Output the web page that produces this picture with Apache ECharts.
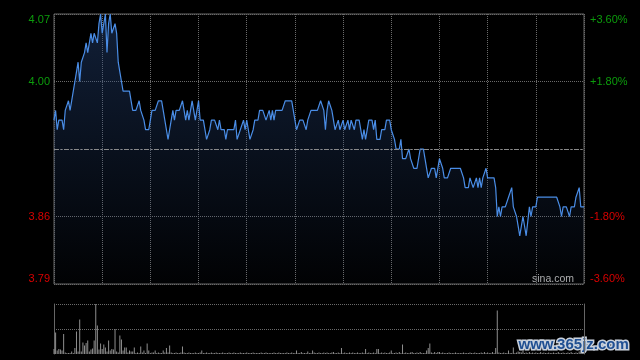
<!DOCTYPE html>
<html>
<head>
<meta charset="utf-8">
<script src="https://cdn.jsdelivr.net/npm/echarts@6/dist/echarts.min.js"></script>
<style>
html,body{margin:0;padding:0;background:#000;}
#chart{width:640px;height:360px;}
</style>
</head>
<body>
<div id="chart"></div>
<script>
// ---- data ----
const prevClose = 3.93;
const priceTicks = [3.79, 3.86, 3.93, 4.00, 4.07];
const pctTicks = ['-3.60%', '-1.80%', '', '+1.80%', '+3.60%'];

// minute labels: 09:30-12:00, 13:01-16:00 (HK session)
const times = [];
for (let m = 9 * 60 + 30; m <= 12 * 60; m++) times.push(String(Math.floor(m / 60)).padStart(2, '0') + ':' + String(m % 60).padStart(2, '0'));
for (let m = 13 * 60 + 1; m <= 16 * 60; m++) times.push(String(Math.floor(m / 60)).padStart(2, '0') + ':' + String(m % 60).padStart(2, '0'));

const prices = [
3.96,3.97,3.95,3.96,3.96,3.96,3.95,3.97,3.97,3.98,
3.97,3.98,3.99,4.00,4.01,4.02,4.00,4.02,4.02,4.03,
4.04,4.03,4.03,4.05,4.04,4.05,4.05,4.04,4.06,4.07,
4.05,4.05,4.07,4.03,4.06,4.07,4.05,4.05,4.06,4.05,
4.02,4.01,4.00,3.99,3.99,3.99,3.99,3.99,3.98,3.97,
3.97,3.97,3.97,3.98,3.97,3.97,3.96,3.95,3.95,3.95,
3.95,3.97,3.97,3.97,3.97,3.98,3.98,3.98,3.97,3.96,
3.96,3.94,3.95,3.95,3.97,3.96,3.97,3.97,3.97,3.97,
3.98,3.97,3.96,3.97,3.96,3.97,3.98,3.98,3.96,3.96,
3.98,3.96,3.96,3.96,3.95,3.94,3.94,3.95,3.96,3.96,
3.96,3.96,3.95,3.96,3.95,3.95,3.95,3.94,3.95,3.95,
3.95,3.95,3.95,3.96,3.94,3.94,3.95,3.95,3.96,3.95,
3.96,3.96,3.94,3.94,3.95,3.96,3.96,3.96,3.97,3.97,
3.97,3.97,3.96,3.96,3.97,3.96,3.97,3.96,3.97,3.97,
3.97,3.97,3.97,3.97,3.98,3.98,3.98,3.98,3.98,3.97,
3.96,3.95,3.95,3.96,3.96,3.96,3.96,3.95,3.96,3.96,
3.97,3.97,3.97,3.97,3.97,3.97,3.98,3.98,3.97,3.95,
3.97,3.98,3.98,3.97,3.97,3.95,3.95,3.96,3.95,3.95,
3.96,3.95,3.95,3.96,3.95,3.96,3.96,3.95,3.96,3.96,
3.96,3.95,3.94,3.95,3.94,3.94,3.96,3.96,3.96,3.95,
3.96,3.94,3.94,3.94,3.95,3.95,3.95,3.96,3.96,3.96,
3.95,3.95,3.94,3.93,3.93,3.93,3.94,3.92,3.92,3.92,
3.92,3.93,3.92,3.92,3.91,3.91,3.91,3.92,3.93,3.93,
3.93,3.92,3.91,3.90,3.90,3.91,3.91,3.91,3.90,3.91,
3.92,3.92,3.91,3.90,3.90,3.90,3.90,3.91,3.91,3.91,
3.91,3.91,3.91,3.91,3.91,3.90,3.89,3.89,3.89,3.90,
3.90,3.89,3.89,3.90,3.89,3.90,3.89,3.90,3.90,3.91,
3.90,3.90,3.90,3.90,3.90,3.89,3.86,3.87,3.86,3.87,
3.87,3.87,3.87,3.88,3.88,3.89,3.87,3.87,3.86,3.85,
3.84,3.84,3.86,3.86,3.84,3.84,3.87,3.86,3.87,3.87,
3.87,3.88,3.88,3.88,3.88,3.88,3.88,3.88,3.88,3.88,
3.88,3.88,3.88,3.88,3.88,3.87,3.86,3.87,3.87,3.87,
3.87,3.86,3.87,3.87,3.87,3.88,3.88,3.89,3.87,3.87,
3.87
];

const volumes = [
10,43,7,10,9,7,40,3,2,2,
2,5,2,12,45,5,69,5,23,17,
22,27,5,9,11,27,100,57,9,21,
10,19,13,5,27,7,10,9,50,5,
3,37,29,7,13,13,3,7,5,5,
13,2,3,2,15,3,7,2,21,7,
2,3,3,7,2,3,2,2,7,3,
12,3,17,3,2,2,3,2,2,3,
15,3,2,2,3,2,2,2,3,2,
2,3,7,2,2,3,2,2,3,2,
2,3,2,2,2,3,2,2,2,3,
2,2,3,2,2,2,3,2,2,2,
3,2,2,2,3,2,2,2,2,3,
2,2,3,2,2,2,2,3,2,2,
3,2,2,2,2,3,2,2,3,2,
2,7,2,2,4,2,2,2,5,2,
2,7,3,2,2,3,2,2,3,2,
3,2,2,3,4,2,2,3,2,12,
2,3,2,2,3,2,3,2,2,3,
2,2,3,2,10,2,3,2,2,3,
2,10,10,2,3,2,3,2,2,3,
7,2,2,3,2,4,2,19,2,3,
2,2,3,4,2,2,3,2,4,2,
2,2,7,12,21,3,2,4,2,4,
4,2,3,2,2,2,3,2,2,2,
3,2,2,2,2,3,2,2,2,3,
2,2,3,2,2,2,3,2,4,2,
3,2,2,4,2,12,87,3,2,2,
3,2,2,7,2,2,13,2,3,5,
4,3,6,2,3,2,4,2,3,2,
3,2,2,4,2,3,2,2,3,2,
2,3,2,2,4,2,2,3,2,2,
3,2,4,2,2,3,2,5,3,2,
3
];

// ---- chart ----
const GREEN = '#0c9c0c';
const RED = '#d80000';
const GRID = '#6a6a6a';
const chart = echarts.init(document.getElementById('chart'), null, {renderer: 'canvas'});

const pMin = priceTicks[0], pMax = priceTicks[priceTicks.length - 1];
const pInterval = +(priceTicks[1] - priceTicks[0]).toFixed(2);

chart.setOption({
  backgroundColor: '#000',
  animation: false,
  grid: [
    {left: 54, top: 14, width: 530, height: 270, show: true, borderColor: '#666', borderWidth: 1, backgroundColor: 'transparent'},
    {left: 54, top: 304, width: 530, height: 50}
  ],
  xAxis: [
    {
      type: 'category', gridIndex: 0, data: times, boundaryGap: false,
      axisLine: {show: false}, axisTick: {show: false}, axisLabel: {show: false},
      splitLine: {show: true, interval: function (i) { return i % 30 === 0; }, lineStyle: {color: GRID, type: 'dotted', width: 1}}
    },
    {
      type: 'category', gridIndex: 1, data: times, boundaryGap: false,
      axisLine: {show: false}, axisTick: {show: false}, axisLabel: {show: false}, splitLine: {show: false}
    }
  ],
  yAxis: [
    {
      type: 'value', gridIndex: 0, min: pMin, max: pMax, interval: pInterval, position: 'left',
      axisLine: {show: false}, axisTick: {show: false},
      axisLabel: {
        margin: 4, fontSize: 11, fontFamily: 'Liberation Sans, Arial, sans-serif',
        verticalAlignMaxLabel: 'top', verticalAlignMinLabel: 'bottom',
        formatter: function (v) { return Math.abs(v - prevClose) < 0.001 ? '' : v.toFixed(2); },
        color: function (v) { return v > prevClose ? GREEN : RED; }
      },
      splitLine: {show: true, lineStyle: {color: GRID, type: 'dotted', width: 1}}
    },
    {
      type: 'value', gridIndex: 0, min: -3.6, max: 3.6, interval: 1.8, position: 'right',
      axisLine: {show: false}, axisTick: {show: false}, splitLine: {show: false},
      axisLabel: {
        margin: 6, fontSize: 11, fontFamily: 'Liberation Sans, Arial, sans-serif',
        verticalAlignMaxLabel: 'top', verticalAlignMinLabel: 'bottom',
        formatter: function (v, i) { return pctTicks[i] !== undefined ? pctTicks[i] : ''; },
        color: function (v) { return v > 0 ? GREEN : RED; }
      }
    },
    {
      type: 'value', gridIndex: 1, min: 0, max: 100, interval: 50, position: 'left',
      axisLine: {show: true, lineStyle: {color: '#666'}}, axisTick: {show: false}, axisLabel: {show: false},
      splitLine: {show: true, showMinLine: false, lineStyle: {color: GRID, type: 'dotted', width: 1}}
    },
    {
      type: 'value', gridIndex: 1, min: 0, max: 100, interval: 50, position: 'right',
      axisLine: {show: true, lineStyle: {color: '#666'}}, axisTick: {show: false}, axisLabel: {show: false},
      splitLine: {show: false}
    }
  ],
  series: [
    {
      type: 'line', xAxisIndex: 0, yAxisIndex: 0, data: prices,
      showSymbol: false, symbol: 'none',
      lineStyle: {color: '#4a8de6', width: 1.2},
      areaStyle: {
        origin: 'start',
        color: new echarts.graphic.LinearGradient(0, 0, 0, 1, [
          {offset: 0, color: 'rgba(40,72,128,0.62)'},
          {offset: 1, color: 'rgba(40,72,128,0.04)'}
        ])
      },
      markLine: {
        silent: true, symbol: 'none', label: {show: false},
        lineStyle: {color: '#8a8a8a', type: [5, 2, 1, 2], width: 1},
        data: [{yAxis: prevClose}]
      },
      z: 3
    },
    {
      type: 'bar', xAxisIndex: 1, yAxisIndex: 2, data: volumes,
      barWidth: 1, itemStyle: {color: '#8e8e8e'}
    }
  ],
  graphic: [
    {type: 'text', left: 532, top: 274, style: {text: 'sina.com', fill: '#b0b0b0', fontSize: 10.5, fontFamily: 'Liberation Sans, Arial, sans-serif'}},
    {type: 'text', left: 517, top: 336, style: {text: 'www.365jz.com', fill: '#1f4f92', stroke: '#c9d1dc', lineWidth: 3, fontSize: 15, fontWeight: 'bold', fontFamily: 'Liberation Sans, Arial, sans-serif'}}
  ]
});
</script>
</body>
</html>
